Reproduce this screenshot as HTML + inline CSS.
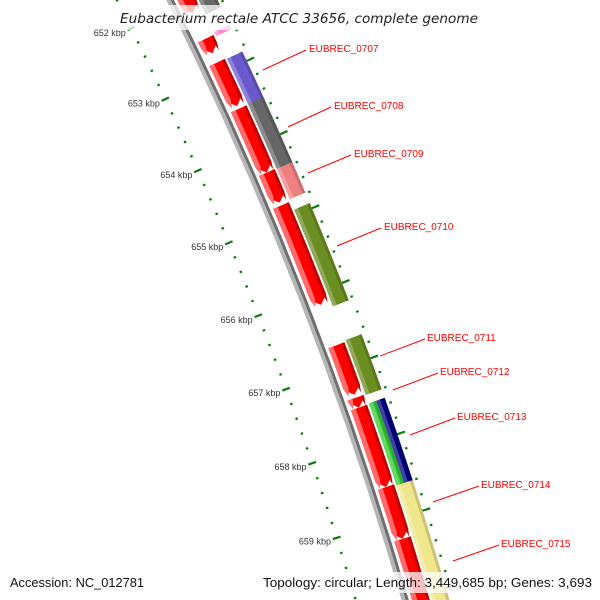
<!DOCTYPE html>
<html><head><meta charset="utf-8"><style>
html,body{margin:0;padding:0;background:#fff;width:600px;height:600px;overflow:hidden;}
svg{display:block;overflow:hidden;}
text{font-family:"Liberation Sans",sans-serif;}
</style></head><body>
<svg id="map" width="600" height="600" viewBox="0 0 600 600" xmlns="http://www.w3.org/2000/svg">
<g id="ticks"></g>
<g id="backbone"></g>
<g id="feats"></g>
<g id="labels">
<line x1="263" y1="70" x2="306" y2="50" stroke="#f00" stroke-width="1"/>
<text x="309" y="52" font-size="10" fill="#f00">EUBREC_0707</text>
<line x1="288" y1="127" x2="331" y2="107" stroke="#f00" stroke-width="1"/>
<text x="334" y="109" font-size="10" fill="#f00">EUBREC_0708</text>
<line x1="308" y1="173" x2="351" y2="155" stroke="#f00" stroke-width="1"/>
<text x="354" y="157" font-size="10" fill="#f00">EUBREC_0709</text>
<line x1="337" y1="246" x2="381" y2="228" stroke="#f00" stroke-width="1"/>
<text x="384" y="230" font-size="10" fill="#f00">EUBREC_0710</text>
<line x1="380" y1="356" x2="425" y2="339" stroke="#f00" stroke-width="1"/>
<text x="427" y="341" font-size="10" fill="#f00">EUBREC_0711</text>
<line x1="393" y1="390" x2="438" y2="373" stroke="#f00" stroke-width="1"/>
<text x="440" y="375" font-size="10" fill="#f00">EUBREC_0712</text>
<line x1="410" y1="435" x2="455" y2="418" stroke="#f00" stroke-width="1"/>
<text x="457" y="420" font-size="10" fill="#f00">EUBREC_0713</text>
<line x1="433" y1="502" x2="479" y2="486" stroke="#f00" stroke-width="1"/>
<text x="481" y="488" font-size="10" fill="#f00">EUBREC_0714</text>
<line x1="453" y1="561" x2="499" y2="545" stroke="#f00" stroke-width="1"/>
<text x="501" y="547" font-size="10" fill="#f00">EUBREC_0715</text>
</g>
<rect x="114" y="5" width="368" height="25" fill="#fff" fill-opacity="0.75"/>
<text x="299" y="23" font-size="13" font-style="italic" fill="#222" text-anchor="middle" style='font-family:"DejaVu Sans",sans-serif' textLength="358" lengthAdjust="spacingAndGlyphs">Eubacterium rectale ATCC 33656, complete genome</text>
<rect x="5" y="572" width="143" height="21" fill="#fff" fill-opacity="0.75"/>
<text x="10" y="587" font-size="13" fill="#111" textLength="134" lengthAdjust="spacingAndGlyphs">Accession: NC_012781</text>
<rect x="258" y="572" width="338" height="21" fill="#fff" fill-opacity="0.75"/>
<text x="263" y="587" font-size="13" fill="#111" textLength="329" lengthAdjust="spacingAndGlyphs">Topology: circular; Length: 3,449,685 bp; Genes: 3,693</text>
</svg>
<script>
const tickKbp = [652, 653, 654, 655, 656, 657, 658, 659];
const featNames = ["top-red","eubrec-0706-red","eubrec-0707-red","eubrec-0708-red","eubrec-0709-red","eubrec-0710-red","eubrec-0711-red","eubrec-0712-red","eubrec-0713-red","eubrec-0714-red","eubrec-0715-red"];
const featStart = [651.7, 652.53, 652.86, 653.5, 654.37, 654.82, 656.7, 657.4, 657.53, 658.58, 659.26];
const featEnd   = [652.17, 652.73, 653.46, 654.37, 654.78, 656.16, 657.36, 657.53, 658.58, 659.26, 660.3];
const cogNames = ["top-gray","top-pink","cog-0707","cog-0708","cog-0709","cog-0710","cog-0711","cog-0713a","cog-0713b","cog-0714"];
const cogStart = [651.7, 652.5, 652.87, 653.49, 654.38, 654.93, 656.68, 657.52, 657.52, 658.6];
const cogEnd   = [652.26, 652.56, 653.5, 654.38, 654.79, 656.23, 657.41, 658.64, 658.64, 660.3];
const cogColor = ["#666666","#ff88cc","#6a5acd","#666666","#f08080","#6b8e23","#6b8e23","#32cd32","#000080","#f0e68c"];
const cogLane  = [0,0,0,0,0,0,0,1,2,0];

const CX=-3068, CY=1615;
function ang(k){ return -0.3284 + (k-658)*0.0220; }
function pt(r,k){ const a=ang(k); return [CX+r*Math.cos(a), CY+r*Math.sin(a)]; }
const NS="http://www.w3.org/2000/svg";
function mk(tag, attrs, parent){ const e=document.createElementNS(NS,tag); for(const k in attrs) e.setAttribute(k,attrs[k]); parent.appendChild(e); return e; }
function band(r1,r2,k1,k2,tip){
  const n=12, pts=[];
  const kb = tip ? Math.max(k1, k2-0.1) : k2;
  for(let i=0;i<=n;i++){ pts.push(pt(r1,k1+(kb-k1)*i/n)); }
  if(tip){ pts.push(pt((r1+r2)/2,k2)); }
  for(let i=n;i>=0;i--){ pts.push(pt(r2,k1+(kb-k1)*i/n)); }
  return pts.map(p=>p[0].toFixed(2)+","+p[1].toFixed(2)).join(" ");
}
const gT=document.getElementById('ticks');
for(let i=0;i<=46;i++){
  const kk=Math.round((651.4+i*0.2)*10)/10;
  const major = Math.abs(kk-Math.round(kk))<1e-6;
  [[3571,major?8:2.5],[3665,major?8:2.5]].forEach(([rc,len])=>{
    const a=pt(rc-len/2,kk), b=pt(rc+len/2,kk);
    const l=mk('line',{x1:a[0],y1:a[1],x2:b[0],y2:b[1],stroke:'#0a7a0a','stroke-width':2.2},gT);
    
    
  });
}
tickKbp.forEach(k=>{
  const p=pt(3565,k);
  const t=mk('text',{x:p[0],y:p[1]+5,'font-size':9,fill:'#333','text-anchor':'end'},gT);
  t.textContent=k+' kbp';
  
  
});
const gB=document.getElementById('backbone');
const bb1=mk('polygon',{points:band(3615,3619,651,661,false),fill:'#b5b5b5'},gB);


const bb2=mk('polygon',{points:band(3619,3622,651,661,false),fill:'#6e6e6e'},gB);


const gF=document.getElementById('feats');
featNames.forEach((nm,i)=>{
  const p=mk('polygon',{points:band(3625,3642,featStart[i],featEnd[i],true),fill:'#ff0000'},gF);
  
  
  const h=mk('polygon',{points:band(3625,3630,featStart[i],featEnd[i],true),fill:'#ff6a6a'},gF);
  
  
  const s=mk('polygon',{points:band(3639,3642,featStart[i],featEnd[i],true),fill:'#c00000'},gF);
  
  
});
cogNames.forEach((nm,i)=>{
  let r1=3644, r2=3661;
  if(cogLane[i]===1){ r2=3652; } else if(cogLane[i]===2){ r1=3652; }
  const p=mk('polygon',{points:band(r1,r2,cogStart[i],cogEnd[i],false),fill:cogColor[i]},gF);
  
  
  const h=mk('polygon',{points:band(r1,r1+4,cogStart[i],cogEnd[i],false),fill:'#ffffff','fill-opacity':0.25},gF);
  
  
  const s=mk('polygon',{points:band(r2-3,r2,cogStart[i],cogEnd[i],false),fill:'#000000','fill-opacity':0.15},gF);
  
  
});
</script>
</body></html>
